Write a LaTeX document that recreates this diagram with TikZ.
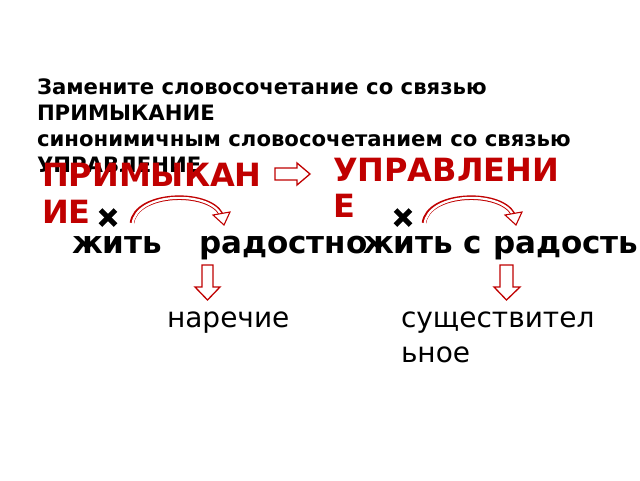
\documentclass[tikz,border=0pt]{standalone}
\usepackage{fontspec}
\setmainfont{DejaVu Sans}
\definecolor{myred}{HTML}{C00000}
\begin{document}
\begin{tikzpicture}[x=1pt,y=-1pt,
  every node/.style={inner sep=0pt, outer sep=0pt},
  title/.style={font=\fontsize{21.2}{26}\selectfont\bfseries, anchor=base west},
  redlbl/.style={font=\fontsize{32}{37}\selectfont\bfseries, text=myred, anchor=base west},
  word/.style={font=\fontsize{31}{36}\selectfont\bfseries, anchor=base west},
  part/.style={font=\fontsize{28}{35}\selectfont, anchor=base west},
  arrowshape/.style={draw=myred, fill=white, line width=1.3pt, line join=miter},
  crossmark/.style={line width=5pt, draw=black}
]
\useasboundingbox (0,0) rectangle (640,480);
\clip (0,0) rectangle (640,480);
\fill[white] (0,0) rectangle (640,480);

% title
\node[title] (t1) at (37,94) {Замените словосочетание со связью};
\node[title] (t2) at (37,120) {ПРИМЫКАНИЕ};
\node[title] (t3) at (37,146) {синонимичным словосочетанием со связью};
\node[title] (t4) at (37,172) {УПРАВЛЕНИЕ};

% red labels
\node[redlbl] (pr1) at (42,186) {ПРИМЫКАН};
\node[redlbl] (pr2) at (42,223) {ИЕ};
\node[redlbl] (up1) at (333,181) {УПРАВЛЕНИ};
\node[redlbl] (up2) at (333,217) {Е};

% right arrow between labels
\draw[arrowshape] (275,168) -- (297,168) -- (297,163) -- (310,174) -- (297,185) -- (297,180) -- (275,180) -- cycle;

% words
\node[word] (w1) at (72,253) {жить};
\node[word] (w2) at (199,253) {радостно};
\node[word] (w3) at (363,253) {жить с радостью};

% crosses
\coordinate (x1) at (108,217.5);
\coordinate (x2) at (403,217.5);
\foreach \c in {x1,x2}{
  \draw[crossmark] ([shift={(-7.5,-7.5)}]\c) -- ([shift={(7.5,7.5)}]\c);
  \draw[crossmark] ([shift={(-7.5,7.5)}]\c) -- ([shift={(7.5,-7.5)}]\c);
}

% curved arrows
\foreach \dx in {0,292}{
  \begin{scope}[xshift=\dx]
    \draw[myred, line width=4.6pt] (132,223) .. controls (136,192) and (208,190) .. (221,214);
    \draw[white, line width=2.2pt] (132.6,224) .. controls (136,192) and (208,190) .. (221,214.5);
    \draw[arrowshape, line width=1.1pt] (213,215) -- (230,212) -- (224,225) -- cycle;
  \end{scope}
}

% down arrows
\draw[arrowshape] (202,265) -- (213,265) -- (213,287) -- (220,287) -- (207.5,300) -- (195,287) -- (202,287) -- cycle;
\draw[arrowshape] (500,265) -- (513,265) -- (513,287) -- (520,287) -- (506.5,300) -- (494,287) -- (500,287) -- cycle;

% parts of speech
\node[part] (p1) at (167,327) {наречие};
\node[part] (p2a) at (401,327) {существител};
\node[part] (p2b) at (401,362) {ьное};
\end{tikzpicture}
\end{document}
